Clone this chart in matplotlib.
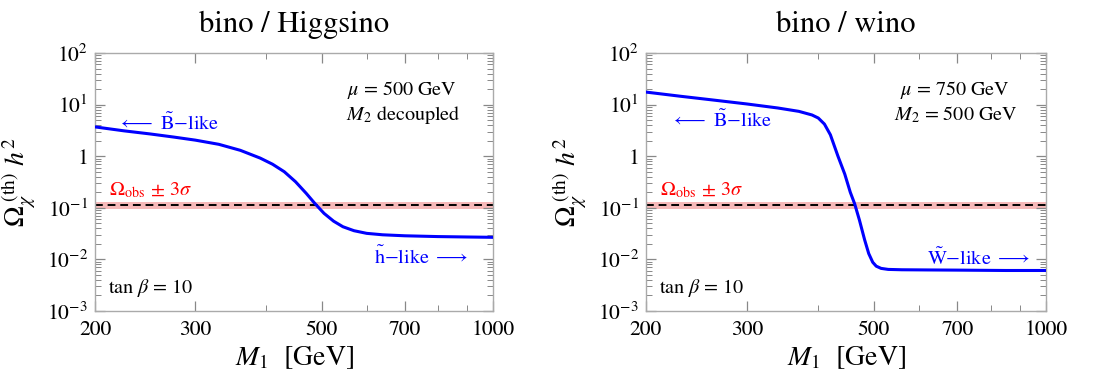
import numpy as np
import matplotlib
matplotlib.use("Agg")
import matplotlib.pyplot as plt
from matplotlib.ticker import FixedLocator, NullFormatter, LogLocator

plt.rcParams['font.family'] = 'STIXGeneral'
plt.rcParams['mathtext.fontset'] = 'stix'

# ---- data ----
m1_left = [200, 225, 250, 275, 300, 330, 360, 390, 410, 430, 450, 470, 487, 505, 525, 545, 570, 600, 640, 700, 800, 900, 1000]
omega_left = [3.7, 3.1, 2.7, 2.35, 2.05, 1.7, 1.3, 0.92, 0.70, 0.50, 0.32, 0.19, 0.12, 0.078, 0.055, 0.043, 0.036, 0.032, 0.030, 0.0287, 0.0277, 0.0272, 0.0268]

m1_right = [200, 230, 260, 300, 340, 370, 390, 400, 410, 420, 433, 445, 455, 463, 472, 482, 490, 498, 505, 515, 530, 560, 620, 700, 850, 1000]
omega_right = [17.5, 14.5, 12.4, 10.3, 8.6, 7.4, 6.3, 5.5, 4.2, 2.6, 1.0, 0.45, 0.20, 0.12, 0.058, 0.024, 0.013, 0.0088, 0.0074, 0.0067, 0.0064, 0.0063, 0.00625, 0.0062, 0.0061, 0.0061]

omega_obs = 0.112
band_low, band_high = 0.094, 0.127

titles = ["bino / Higgsino", "bino / wino"]
param_text = [[r"$\mu$ = 500 GeV", r"$M_2$ decoupled"],
              [r"$\mu$ = 750 GeV", r"$M_2$ = 500 GeV"]]
low_label = [r"$\tilde{\mathrm{h}}\mathrm{-like}\ \longrightarrow$",
             r"$\tilde{\mathrm{W}}\mathrm{-like}\ \longrightarrow$"]
high_label = r"$\longleftarrow\ \tilde{\mathrm{B}}\mathrm{-like}$"

xticks = [200, 300, 500, 700, 1000]
xminor = [400, 600, 800, 900]
yticks = [1e-3, 1e-2, 1e-1, 1, 10, 100]
ylabels = [r"$10^{-3}$", r"$10^{-2}$", r"$10^{-1}$", "1", r"$10^{1}$", r"$10^{2}$"]

fig = plt.figure(figsize=(10.96, 3.71), dpi=100)
axes = [fig.add_axes([0.0867, 0.1617, 0.3631, 0.6954]),
        fig.add_axes([0.5894, 0.1617, 0.3650, 0.6954])]

series = [(m1_left, omega_left), (m1_right, omega_right)]
high_pos = [(0.058, 0.729), (0.0625, 0.74)]
low_pos = [(0.937, 0.21), (0.96, 0.205)]

for i, ax in enumerate(axes):
    x, y = series[i]
    ax.set_xscale('log')
    ax.set_yscale('log')
    ax.set_xlim(200, 1000)
    ax.set_ylim(1e-3, 1e2)
    ax.axhspan(band_low, band_high, color='#f08080', alpha=0.55, lw=0, zorder=1)
    ax.axhline(omega_obs, color='black', ls=(0, (4, 2.5)), lw=1.4, zorder=2)
    ax.plot(x, y, color='#0000ff', lw=2.2, zorder=3)

    ax.xaxis.set_major_locator(FixedLocator(xticks))
    ax.xaxis.set_minor_locator(FixedLocator(xminor))
    ax.set_xticks(xticks)
    ax.set_xticklabels([str(t) for t in xticks])
    ax.xaxis.set_minor_formatter(NullFormatter())
    ax.set_yticks(yticks)
    ax.set_yticklabels(ylabels)
    ax.yaxis.set_minor_locator(LogLocator(base=10, subs=np.arange(2, 10), numticks=20))
    ax.yaxis.set_minor_formatter(NullFormatter())

    ax.tick_params(which='both', direction='in', top=True, right=True,
                   color='#888888', labelsize=15.5)
    ax.tick_params(axis='x', which='major', pad=7)
    ax.tick_params(axis='y', which='major', pad=5)
    ax.tick_params(which='major', length=7, width=0.9)
    ax.tick_params(which='minor', length=4, width=0.7)
    for sp in ax.spines.values():
        sp.set_color('#aaaaaa')
        sp.set_linewidth(1.0)

    ax.set_title(titles[i], fontsize=22, pad=15)
    ax.set_xlabel(r"$M_1$  [GeV]", fontsize=20, labelpad=3)
    ax.set_ylabel(r"$\Omega_{\chi}^{\ \mathrm{(th)}}\ h^2$", fontsize=20, labelpad=6)

    ax.text(0.772, 0.857, param_text[i][0], transform=ax.transAxes,
            ha='center', va='center', fontsize=14.5)
    ax.text(0.775, 0.76, param_text[i][1], transform=ax.transAxes,
            ha='center', va='center', fontsize=14.5)
    ax.text(high_pos[i][0], high_pos[i][1], high_label, transform=ax.transAxes,
            ha='left', va='center', fontsize=14.5, color='#0000ff')
    ax.text(low_pos[i][0], low_pos[i][1], low_label[i], transform=ax.transAxes,
            ha='right', va='center', fontsize=14.5, color='#0000ff')
    ax.text(0.036, 0.469, r"$\Omega_{\mathrm{obs}}\,\pm\,3\sigma$", transform=ax.transAxes,
            ha='left', va='center', fontsize=14.5, color='#ff0000')
    ax.text(0.032, 0.089, r"tan $\beta$ = 10", transform=ax.transAxes,
            ha='left', va='center', fontsize=14.5)

fig.savefig("out.png", dpi=100)
